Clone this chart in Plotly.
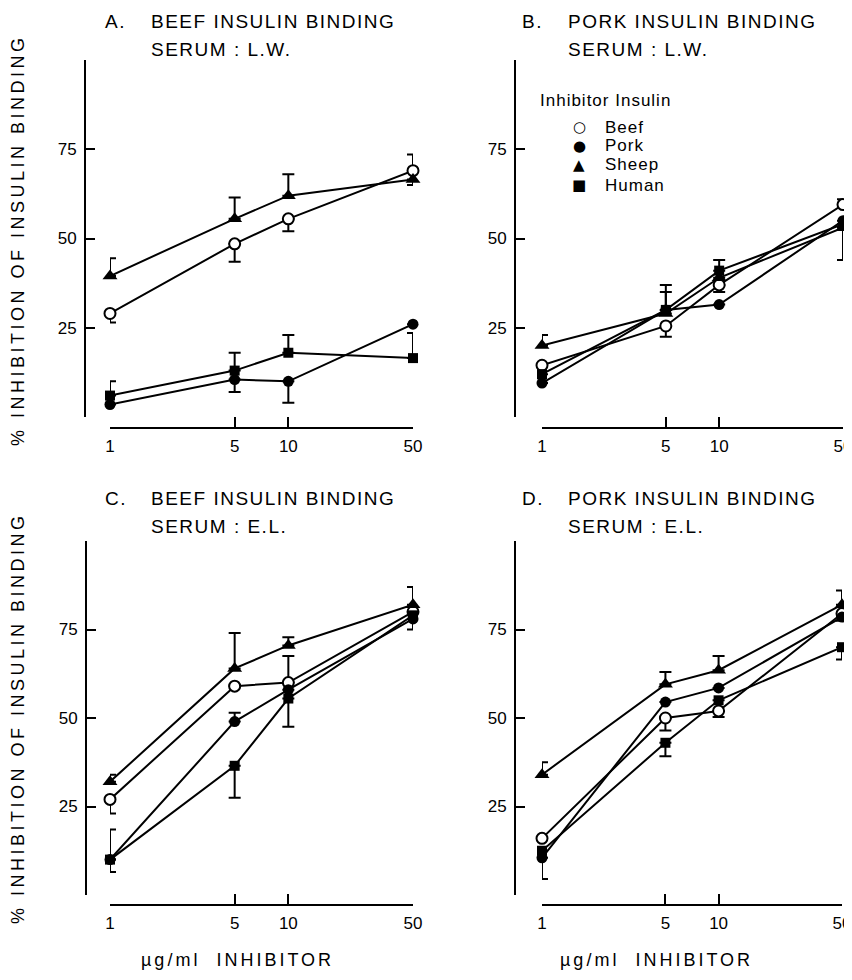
import math
import plotly.graph_objects as go

W, H = 852, 980          # target picture size
OFF = 8                  # default page margin of the html body
FW, FH = W - OFF, H - 2 * OFF
FONT = "Liberation Sans, Arial, sans-serif"
SYMFONT = "DejaVu Sans, sans-serif"

# ---------------- data ----------------
doses = [1, 5, 10, 50]
x_tickvals = [1, 5, 10, 50]
x_ticktext = ["1", "5", "10", "50"]
y_tickvals = [0, 25, 50, 75, 100]
y_ticktext = ["", "25", "50", "75", ""]
series_names = ["Beef", "Pork", "Sheep", "Human"]
legend_glyphs = ["\u25cb", "\u25cf", "\u25b2", "\u25a0"]

# Panel A: beef insulin binding, serum L.W.
a_beef = [29, 48.5, 55.5, 69]
a_beef_up = [0, 0, 0, 4.5]
a_beef_dn = [2.5, 5, 3.5, 0]
a_pork = [3.5, 10.5, 10, 26]
a_pork_up = [0, 0, 0, 0]
a_pork_dn = [0, 3.5, 6, 0]
a_sheep = [39.5, 55.5, 62, 66.5]
a_sheep_up = [5, 6, 6, 0]
a_sheep_dn = [0, 0, 0, 1.5]
a_human = [6, 13, 18, 16.5]
a_human_up = [4, 5, 5, 7]
a_human_dn = [0, 0, 0, 0]

# Panel B: pork insulin binding, serum L.W.
b_beef = [14.5, 25.5, 37, 59.5]
b_beef_up = [0, 0, 0, 1.5]
b_beef_dn = [0, 3, 2, 0]
b_pork = [9.5, 30, 31.5, 55]
b_pork_up = [0, 0, 0, 0]
b_pork_dn = [0, 0, 0, 0]
b_sheep = [20, 29, 39, 53]
b_sheep_up = [3, 8, 0, 0]
b_sheep_dn = [0, 0, 0, 9]
b_human = [12, 30, 41, 54]
b_human_up = [0, 5, 3, 0]
b_human_dn = [0, 0, 0, 0]

# Panel C: beef insulin binding, serum E.L.
c_beef = [27, 59, 60, 80]
c_beef_up = [0, 0, 7.5, 0]
c_beef_dn = [4, 0, 0, 0]
c_pork = [10, 49, 58, 78]
c_pork_up = [0, 2.5, 0, 0]
c_pork_dn = [3.5, 0, 0, 3]
c_sheep = [32, 64, 70.5, 82]
c_sheep_up = [2, 10, 2.3, 5]
c_sheep_dn = [0, 0, 0, 0]
c_human = [10, 36.5, 55.5, 79]
c_human_up = [8.5, 0, 0, 0]
c_human_dn = [0, 9, 8, 0]

# Panel D: pork insulin binding, serum E.L.
d_beef = [16, 50, 52, 79.5]
d_beef_up = [0, 0, 0, 0]
d_beef_dn = [0, 3.5, 1.7, 2]
d_pork = [10.5, 54.5, 58.5, 78.5]
d_pork_up = [0, 0, 0, 0]
d_pork_dn = [6, 0, 0, 0]
d_sheep = [34, 59.5, 63.5, 82]
d_sheep_up = [3.5, 3.5, 4, 4]
d_sheep_dn = [0, 0, 0, 0]
d_human = [12.5, 43, 55, 70]
d_human_up = [0, 0, 0, 0]
d_human_dn = [0, 3.8, 0, 3.5]

panel_letters = ["A.", "B.", "C.", "D."]
panel_titles = ["BEEF INSULIN BINDING", "PORK INSULIN BINDING",
                "BEEF INSULIN BINDING", "PORK INSULIN BINDING"]
panel_serum = ["SERUM : L.W.", "SERUM : L.W.", "SERUM : E.L.", "SERUM : E.L."]
y_title = "% INHIBITION OF INSULIN BINDING"
x_title = "\u00b5g/ml  INHIBITOR"
legend_title = "Inhibitor Insulin"

panels_data = [
    [(a_beef, a_beef_up, a_beef_dn), (a_pork, a_pork_up, a_pork_dn),
     (a_sheep, a_sheep_up, a_sheep_dn), (a_human, a_human_up, a_human_dn)],
    [(b_beef, b_beef_up, b_beef_dn), (b_pork, b_pork_up, b_pork_dn),
     (b_sheep, b_sheep_up, b_sheep_dn), (b_human, b_human_up, b_human_dn)],
    [(c_beef, c_beef_up, c_beef_dn), (c_pork, c_pork_up, c_pork_dn),
     (c_sheep, c_sheep_up, c_sheep_dn), (c_human, c_human_up, c_human_dn)],
    [(d_beef, d_beef_up, d_beef_dn), (d_pork, d_pork_up, d_pork_dn),
     (d_sheep, d_sheep_up, d_sheep_dn), (d_human, d_human_up, d_human_dn)],
]

# ---------------- styles / layout geometry (pixels of the target) ----------------
markers = [
    dict(symbol="circle", size=11, color="white", line=dict(color="black", width=2)),
    dict(symbol="circle", size=11, color="black", line=dict(color="black", width=0)),
    dict(symbol="triangle-up", size=13, color="black", line=dict(color="black", width=0)),
    dict(symbol="square", size=10, color="black", line=dict(color="black", width=0)),
]

geom = [
    dict(xd=(110, 413), yd=(60, 417), yax=85, xax=428, tx=103, ty=22),
    dict(xd=(542, 843), yd=(60, 417), yax=515, xax=428, tx=520, ty=22),
    dict(xd=(110, 413), yd=(541, 895), yax=86, xax=905, tx=103, ty=498),
    dict(xd=(542, 842), yd=(541, 895), yax=515, xax=905, tx=520, ty=498),
]


def px(x):
    return (x - OFF) / FW


def py(y):
    return 1 - (y - OFF) / FH


def spaced(text, ls):
    return '<span style="letter-spacing:%gpx">%s</span>' % (ls, text)


fig = go.Figure()
layout = dict(
    width=FW, height=FH, autosize=False,
    margin=dict(l=0, r=0, t=0, b=0),
    paper_bgcolor="white", plot_bgcolor="rgba(0,0,0,0)",
    font=dict(family=FONT, color="black", size=17),
    showlegend=False,
)

annotations = []
for i, g in enumerate(geom):
    n = "" if i == 0 else str(i + 1)
    xa, ya = "x" + n, "y" + n
    layout["xaxis" + n] = dict(
        type="log", range=[0, math.log10(50)],
        domain=[px(g["xd"][0]), px(g["xd"][1])],
        anchor="free", position=py(g["xax"]),
        tickvals=x_tickvals, ticktext=x_ticktext,
        ticks="inside", ticklen=10, tickwidth=2, tickcolor="black",
        showline=True, linewidth=2, linecolor="black",
        showgrid=False, zeroline=False, automargin=False,
        ticklabelstandoff=3, ticklabeloverflow="allow",
        tickfont=dict(family=FONT, size=17, color="black"),
    )
    layout["yaxis" + n] = dict(
        range=[0, 100],
        domain=[py(g["yd"][1]), py(g["yd"][0])],
        anchor="free", position=px(g["yax"]),
        tickvals=y_tickvals, ticktext=y_ticktext,
        ticks="inside", ticklen=9, tickwidth=2, tickcolor="black",
        showline=True, linewidth=2, linecolor="black",
        showgrid=False, zeroline=False, automargin=False,
        ticklabelstandoff=4, ticklabeloverflow="allow",
        tickfont=dict(family=FONT, size=17, color="black"),
    )
    # lines first
    for (vals, up, dn) in panels_data[i]:
        fig.add_trace(go.Scatter(
            x=doses, y=vals, mode="lines", xaxis=xa, yaxis=ya,
            line=dict(color="black", width=2), showlegend=False,
            hoverinfo="skip"))
    # markers with error bars on top
    for k, (vals, up, dn) in enumerate(panels_data[i]):
        fig.add_trace(go.Scatter(
            x=doses, y=vals, mode="markers", xaxis=xa, yaxis=ya,
            marker=markers[k], cliponaxis=False, showlegend=False,
            name=series_names[k],
            error_y=dict(type="data", symmetric=False, array=up, arrayminus=dn,
                         color="black", thickness=2, width=6, visible=True)))
    # panel titles
    annotations.append(dict(text=spaced(panel_letters[i], 1.5), x=px(g["tx"]), y=py(g["ty"]),
                            xref="paper", yref="paper", xanchor="left", yanchor="middle",
                            showarrow=False, font=dict(family=FONT, size=19)))
    annotations.append(dict(text=spaced(panel_titles[i], 1.5), x=px(g["tx"] + 46), y=py(g["ty"]),
                            xref="paper", yref="paper", xanchor="left", yanchor="middle",
                            showarrow=False, font=dict(family=FONT, size=19)))
    annotations.append(dict(text=spaced(panel_serum[i], 1.5), x=px(g["tx"] + 46), y=py(g["ty"] + 28),
                            xref="paper", yref="paper", xanchor="left", yanchor="middle",
                            showarrow=False, font=dict(family=FONT, size=19)))

# legend (inside panel B) built from text
annotations.append(dict(text=spaced(legend_title, 1), x=px(538), y=py(100), xref="paper", yref="paper",
                        xanchor="left", yanchor="middle", showarrow=False,
                        font=dict(family=FONT, size=17)))
legend_rows = [127, 146, 165, 185]
for k in range(4):
    annotations.append(dict(text=legend_glyphs[k], x=px(579), y=py(legend_rows[k]),
                            xref="paper", yref="paper", xanchor="center", yanchor="middle",
                            showarrow=False, font=dict(family=SYMFONT, size=15)))
    annotations.append(dict(text=spaced(series_names[k], 1), x=px(603), y=py(legend_rows[k]),
                            xref="paper", yref="paper", xanchor="left", yanchor="middle",
                            showarrow=False, font=dict(family=FONT, size=17)))

# axis titles
for yc in (240, 718):
    annotations.append(dict(text=spaced(y_title, 3.5), x=px(18), y=py(yc), xref="paper", yref="paper",
                            xanchor="center", yanchor="middle", textangle=-90,
                            showarrow=False, font=dict(family=FONT, size=18)))
for xc in (238, 656):
    annotations.append(dict(text=spaced(x_title, 3), x=px(xc), y=py(960), xref="paper", yref="paper",
                            xanchor="center", yanchor="middle",
                            showarrow=False, font=dict(family=FONT, size=18)))

layout["annotations"] = annotations
fig.update_layout(**layout)
fig.write_html("out.html")
